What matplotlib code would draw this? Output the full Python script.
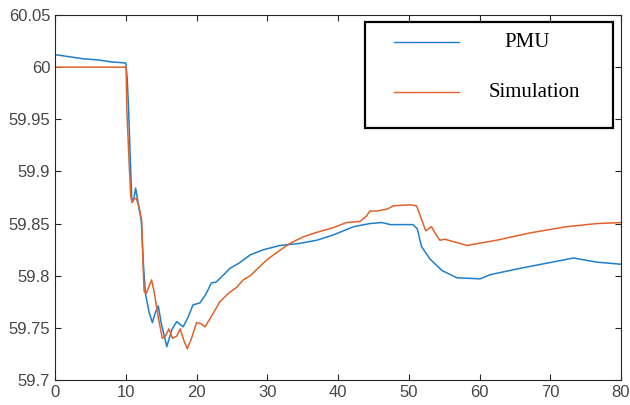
import matplotlib
matplotlib.use("Agg")
import matplotlib.pyplot as plt
from matplotlib.patches import Rectangle
from matplotlib.lines import Line2D

# PMU measurement (time s, frequency Hz)
t_pmu = [0, 2, 4, 6, 8, 10, 10.2, 10.4, 10.6, 10.85, 11.1, 11.4, 11.7, 12.2, 12.5,
         12.8, 13.3, 13.76, 14.2, 14.6, 15.0, 15.8, 16.5, 17.2, 18.1, 18.8, 19.5,
         20.5, 21.3, 22.1, 22.8, 24.0, 24.7, 26.0, 27.6, 29.5, 31.8, 34.6, 37.0,
         39.3, 42.2, 44.5, 46.2, 47.4, 50.6, 51.2, 51.8, 53.0, 54.7, 56.8, 60.1,
         61.5, 65.7, 69.5, 73.3, 76.6, 80]
f_pmu = [60.012, 60.010, 60.008, 60.007, 60.005, 60.004, 59.99, 59.96, 59.92, 59.874,
         59.872, 59.884, 59.872, 59.852, 59.81, 59.782, 59.765, 59.755, 59.765, 59.771,
         59.755, 59.732, 59.748, 59.756, 59.751, 59.76, 59.772, 59.774, 59.782, 59.793,
         59.794, 59.802, 59.807, 59.812, 59.82, 59.825, 59.829, 59.831, 59.834, 59.839,
         59.847, 59.850, 59.851, 59.849, 59.849, 59.845, 59.828, 59.816, 59.805, 59.798,
         59.797, 59.801, 59.807, 59.812, 59.817, 59.813, 59.811]

# simulation
t_sim = [0, 10.05, 10.15, 10.4, 10.7, 10.9, 11.2, 11.5, 11.9, 12.25, 12.45, 12.6, 12.9,
         13.3, 13.65, 14.0, 14.6, 15.17, 15.6, 16.1, 16.6, 17.2, 17.7, 18.2, 18.7, 19.3,
         20.0, 20.6, 21.2, 22.2, 23.3, 24.5, 25.7, 26.6, 27.6, 29.9, 31.5, 33.2, 35.0,
         36.7, 39.3, 41.2, 43.1, 44.0, 44.5, 45.5, 47.0, 47.8, 50.2, 51.1, 51.6, 52.4,
         53.2, 53.8, 54.4, 55.1, 57.2, 58.2, 62.4, 67.1, 72.3, 76.6, 80]
f_sim = [60.0, 60.0, 59.96, 59.92, 59.876, 59.870, 59.874, 59.874, 59.865, 59.853, 59.81,
         59.785, 59.783, 59.79, 59.796, 59.785, 59.76, 59.74, 59.742, 59.749, 59.740,
         59.742, 59.749, 59.738, 59.730, 59.74, 59.755, 59.754, 59.751, 59.762, 59.775,
         59.783, 59.789, 59.796, 59.80, 59.815, 59.823, 59.831, 59.837, 59.841, 59.846,
         59.851, 59.852, 59.857, 59.862, 59.862, 59.864, 59.867, 59.868, 59.867, 59.858,
         59.843, 59.847, 59.840, 59.834, 59.835, 59.831, 59.829, 59.834, 59.841, 59.847,
         59.850, 59.851]

labels = ["PMU", "Simulation"]
colors = ["#1f7fc9", "#e0622a"]

fig = plt.figure(figsize=(6.3, 4.05), dpi=100)
ax = fig.add_axes([55 / 630, 1 - 380 / 405, 566 / 630, 365 / 405])

ax.plot(t_pmu, f_pmu, color=colors[0], lw=1.1, solid_joinstyle="round")
ax.plot(t_sim, f_sim, color=colors[1], lw=1.1, solid_joinstyle="round")

ax.set_xlim(0, 80)
ax.set_ylim(59.7, 60.05)
ax.set_xticks(range(0, 81, 10))
ax.set_yticks([59.7, 59.75, 59.8, 59.85, 59.9, 59.95, 60.0, 60.05])
ax.set_yticklabels(["59.7", "59.75", "59.8", "59.85", "59.9", "59.95", "60", "60.05"])
ax.tick_params(direction="in", top=True, right=True, length=4.5, width=0.8,
               colors="0.15", labelsize=12, labelcolor="0.28")
for lab in ax.get_xticklabels() + ax.get_yticklabels():
    lab.set_family("Liberation Sans")
for s in ax.spines.values():
    s.set_color("0.15")
    s.set_linewidth(0.8)

# legend box, MATLAB style
ax.add_patch(Rectangle((0.548, 0.690), 0.438, 0.291, transform=ax.transAxes,
                       facecolor="white", edgecolor="black", lw=1.6, zorder=5))
for yy, lab, col, xc in [(0.926, labels[0], colors[0], 0.834),
                         (0.789, labels[1], colors[1], 0.847)]:
    ax.add_line(Line2D([0.599, 0.714], [yy, yy], transform=ax.transAxes,
                       color=col, lw=1.0, zorder=6))
    ax.text(xc, yy, lab, transform=ax.transAxes, ha="center", va="center",
            fontsize=15, family="Liberation Serif", color="black", zorder=6)

fig.savefig("out.png", dpi=100)
